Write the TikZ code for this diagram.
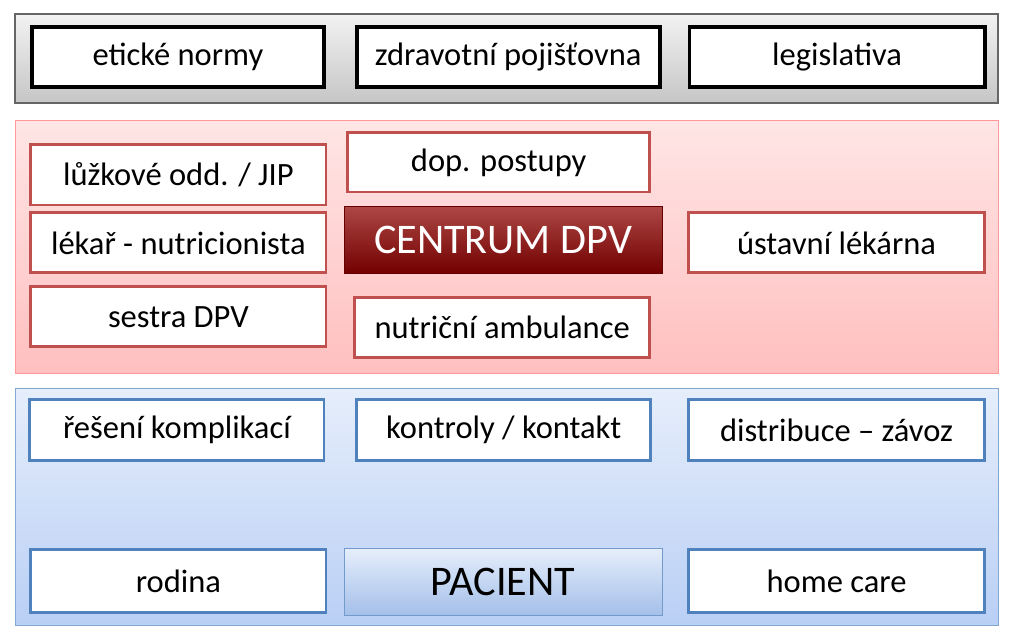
\documentclass[tikz,border=0pt]{standalone}
\usepackage{fontspec}
\setmainfont{Carlito}
\definecolor{redline}{HTML}{C0504D}
\definecolor{blueline}{HTML}{4F81BD}
\definecolor{bluetop}{HTML}{E6EEFB}
\definecolor{bluebot}{HTML}{B9CFF5}
\tikzset{
  panel/.style={draw=gray!80!black, line width=0.6pt},
  whitebox/.style={draw, fill=white, line width=1.6pt, font=\fontsize{18.5}{22}\selectfont, inner sep=0pt},
  blackbox/.style={whitebox, draw=black, line width=2.2pt},
  redbox/.style={whitebox, draw=redline},
  bluebox/.style={whitebox, draw=blueline},
}
% box from pixel corners
\newcommand{\pbox}[7]{\node[#1, minimum width={(#4-#2)*0.02cm}, minimum height={(#5-#3)*0.02cm}] (#6) at ({(#2+#4)*0.01},{-(#3+#5)*0.01}) {#7};}
\begin{document}
\begin{tikzpicture}
\useasboundingbox (0,0) rectangle (20.48,-12.7);
% panels
\shade[top color=gray!10, bottom color=gray!45, panel] (0.3,-0.28) rectangle (19.96,-2.06);
\shade[top color=red!10, bottom color=red!25, draw=red!40] (0.3,-2.4) rectangle (19.96,-7.46);
\shade[top color=bluetop, bottom color=bluebot, draw=blueline!70] (0.3,-7.76) rectangle (19.96,-12.5);
% top row
\pbox{blackbox}{32}{27}{324}{87}{etika}{etické normy}
\pbox{blackbox}{357}{27}{660}{87}{pojistovna}{zdravotní pojišťovna}
\pbox{blackbox}{690}{27}{985}{87}{legislativa}{legislativa}
% centrum
\pbox{redbox}{31}{145}{326}{205}{oddeleni}{lůžkové odd. / JIP}
\pbox{redbox}{31}{213}{326}{273}{lekar}{lékař - nutricionista}
\pbox{redbox}{31}{287}{326}{347}{sestra}{sestra DPV}
\pbox{redbox}{348}{133}{650}{192}{postupy}{dop. postupy}
\pbox{redbox}{355}{298}{650}{358}{ambulance}{nutriční ambulance}
\pbox{redbox}{689}{213}{985}{273}{lekarna}{ústavní lékárna}
\shade[top color=redline!90!black, bottom color=red!45!black, draw=red!40!black]
  (6.88,-4.12) rectangle (13.24,-5.46);
\node[text=white, font=\fontsize{24}{28}\selectfont] (centrum) at (10.06,-4.79) {CENTRUM DPV};
% pacient
\pbox{bluebox}{30}{400}{324}{461}{komplikace}{řešení komplikací}
\pbox{bluebox}{357}{400}{651}{461}{kontroly}{kontroly / kontakt}
\pbox{bluebox}{689}{400}{985}{461}{distribuce}{distribuce – závoz}
\pbox{bluebox}{31}{550}{326}{613}{rodina}{rodina}
\pbox{bluebox}{689}{550}{985}{613}{homecare}{home care}
\shade[top color=bluetop, bottom color=bluebot!80!blueline, draw=blueline!80] (6.88,-10.96) rectangle (13.24,-12.3);
\node[font=\fontsize{24}{28}\selectfont] (pacient) at (10.06,-11.63) {PACIENT};
\end{tikzpicture}
\end{document}
